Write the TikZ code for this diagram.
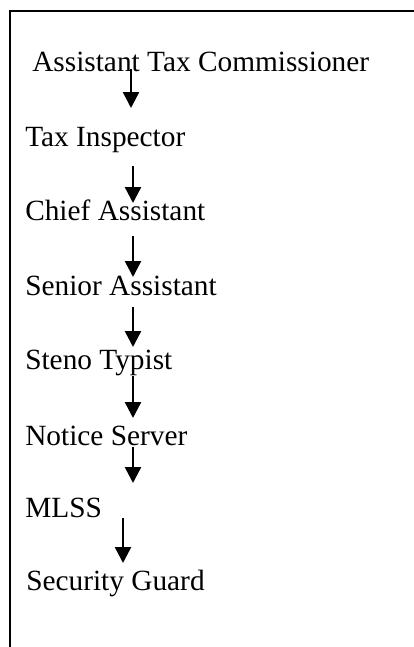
\documentclass[tikz,border=0pt]{standalone}
\usepackage{fontspec}
\setmainfont{Liberation Serif}
\usetikzlibrary{arrows.meta,positioning}
\tikzset{
  post/.style={anchor=base west,inner sep=0pt,font=\fontsize{22}{26}\selectfont},
  flow/.style={line width=1.8pt,-{Triangle[width=12pt,length=12pt]}},
  frame/.style={line width=2pt}
}
\begin{document}
\begin{tikzpicture}[x=0.75pt,y=-0.75pt]
%
\useasboundingbox (0,0) rectangle (414,647);
%
\draw[frame] (416,11) -- (10,11) -- (10,649);
%
\node[post] (atc) at (32,71)  {Assistant Tax Commissioner};
\node[post] (ti)  at (25,146) {Tax Inspector};
\node[post] (ca)  at (25,220) {Chief Assistant};
\node[post] (sa)  at (25,295) {Senior Assistant};
\node[post] (st)  at (25,369) {Steno Typist};
\node[post] (ns)  at (25,445) {Notice Server};
\node[post] (ml)  at (25,517) {MLSS};
\node[post] (sg)  at (26,590) {Security Guard};
%
\coordinate (t1) at (131,69);  \coordinate (h1) at (131,108);
\coordinate (t2) at (133,166); \coordinate (h2) at (133,203);
\coordinate (t3) at (133,236); \coordinate (h3) at (133,277);
\coordinate (t4) at (133,307); \coordinate (h4) at (133,347);
\coordinate (t5) at (133,376); \coordinate (h5) at (133,418);
\coordinate (t6) at (133,447); \coordinate (h6) at (133,483);
\coordinate (t7) at (123,518); \coordinate (h7) at (123,563);
%
\draw[flow] (t1) -- (h1);
\draw[flow] (t2) -- (h2);
\draw[flow] (t3) -- (h3);
\draw[flow] (t4) -- (h4);
\draw[flow] (t5) -- (h5);
\draw[flow] (t6) -- (h6);
\draw[flow] (t7) -- (h7);
%
\end{tikzpicture}
\end{document}
